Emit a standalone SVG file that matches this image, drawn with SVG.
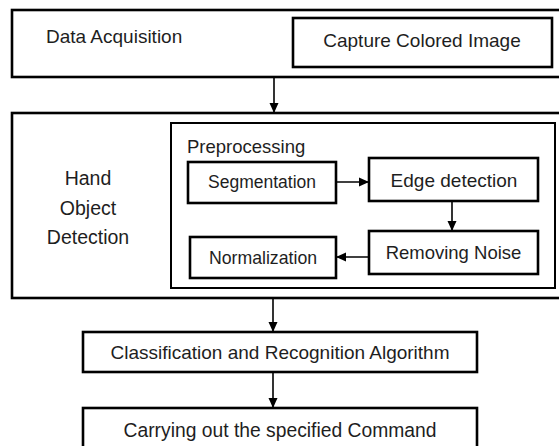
<svg xmlns="http://www.w3.org/2000/svg" width="559" height="446" viewBox="0 0 559 446">
<style>
.box{fill:none;stroke:#000;stroke-width:2.6}
.thin{fill:none;stroke:#000;stroke-width:2}
text{font-family:"Liberation Sans",Arial,sans-serif;fill:#1e1e1e;font-size:19px}
.c{text-anchor:middle}
.con{stroke:#000;stroke-width:1.6;fill:none;marker-end:url(#ah)}
</style>
<defs>
<marker id="ah" markerUnits="userSpaceOnUse" markerWidth="10" markerHeight="10" refX="10" refY="5" orient="auto">
<path d="M0,0.5 L10,5 L0,9.5 Z" fill="#000"/>
</marker>
</defs>
<rect width="559" height="446" fill="#fff"/>
<g id="data-acquisition">
<rect class="box" x="12" y="10" width="552" height="67"/>
<text x="46" y="43">Data Acquisition</text>
</g>
<g id="capture">
<rect class="box" x="293" y="18" width="259" height="49"/>
<text class="c" x="422" y="47">Capture Colored Image</text>
</g>
<g id="hand-object-detection">
<rect class="box" x="12" y="113" width="552" height="185"/>
<text class="c" x="88" y="185" style="font-size:19.5px">Hand</text>
<text class="c" x="88" y="215" style="font-size:19.5px">Object</text>
<text class="c" x="88" y="244" style="font-size:19.5px">Detection</text>
</g>
<g id="preprocessing">
<rect class="thin" x="171" y="123" width="384" height="165"/>
<text x="187" y="153" style="font-size:18.5px">Preprocessing</text>
</g>
<g id="segmentation">
<rect class="box" x="188" y="162" width="148" height="41"/>
<text class="c" x="262" y="188" style="font-size:17.5px">Segmentation</text>
</g>
<g id="edge-detection">
<rect class="box" x="369" y="158" width="169" height="43"/>
<text class="c" x="454" y="187">Edge detection</text>
</g>
<g id="removing-noise">
<rect class="box" x="369" y="231" width="169" height="43"/>
<text class="c" x="453.5" y="259" style="font-size:18.5px">Removing Noise</text>
</g>
<g id="normalization">
<rect class="box" x="190" y="237" width="146" height="41"/>
<text class="c" x="263" y="264" style="font-size:17.7px">Normalization</text>
</g>
<g id="classification">
<rect class="box" x="83" y="332" width="394" height="40"/>
<text class="c" x="280" y="359">Classification and Recognition Algorithm</text>
</g>
<g id="carrying-out">
<rect class="box" x="83" y="408" width="394" height="44"/>
<text class="c" x="280" y="437" style="font-size:19.3px">Carrying out the specified Command</text>
</g>
<g id="connectors">
<line class="con" x1="274" y1="77" x2="274" y2="113"/>
<line class="con" x1="336" y1="182" x2="369" y2="182"/>
<line class="con" x1="452" y1="201" x2="452" y2="231"/>
<line class="con" x1="369" y1="257" x2="336" y2="257"/>
<line class="con" x1="273" y1="298" x2="273" y2="332"/>
<line class="con" x1="273" y1="372" x2="273" y2="408"/>
</g>
</svg>
